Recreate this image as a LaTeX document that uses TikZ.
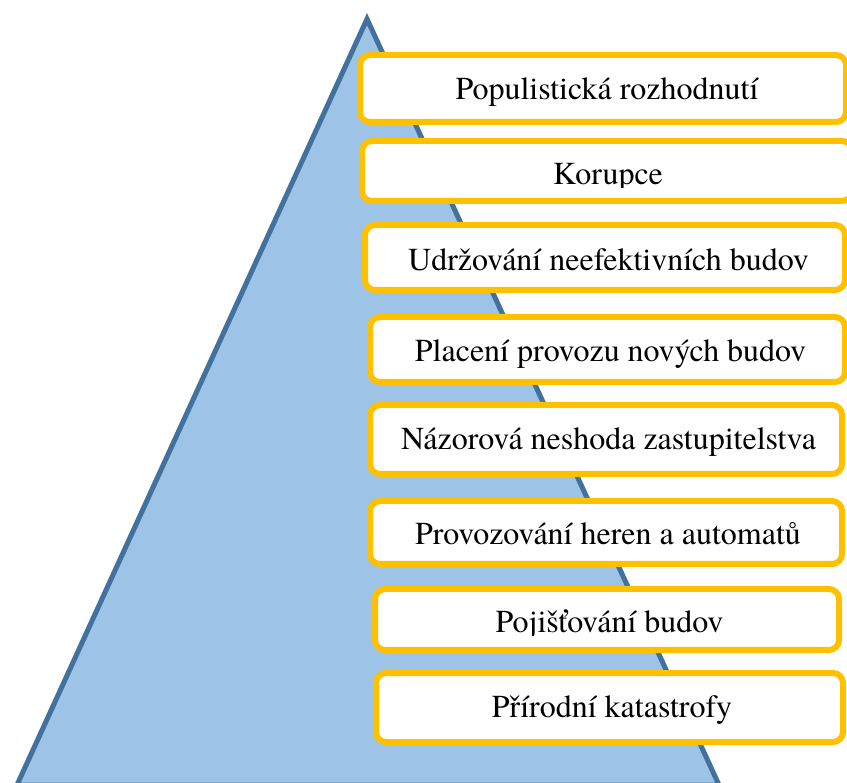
\documentclass[tikz,border=0pt]{standalone}
\usepackage{fontspec}
\setmainfont{TeX Gyre Termes}
\definecolor{triFill}{HTML}{9DC3E6}
\definecolor{triLine}{HTML}{41719C}
\definecolor{boxLine}{HTML}{FFC000}
\begin{document}
\begin{tikzpicture}[x=1pt,y=-1pt,
  tri/.style={fill=triFill,draw=triLine,line width=5pt,line join=miter},
  bx/.style={draw=boxLine,fill=white,line width=6pt,rounded corners=10pt},
  lbl/.style={anchor=base,inner sep=0pt,font=\fontsize{32}{38}\selectfont,text=black}]
\useasboundingbox (0,0) rectangle (847,783);
\coordinate (apex) at (367,19);
\coordinate (bl) at (17,785);
\coordinate (br) at (719,785);
\draw[tri] (apex) -- (br) -- (bl) -- cycle;
% boxes
\draw[bx] (360,55) rectangle (846,122);
\draw[bx] (362,141) rectangle (852,201);
\draw[bx] (365,225) rectangle (845,290);
\draw[bx] (370,317) rectangle (845,382);
\draw[bx] (370,405) rectangle (842,474);
\draw[bx] (370,501) rectangle (842,564);
\draw[bx] (375,589) rectangle (839,650);
\draw[bx] (376,673) rectangle (843,742);
% labels
\node[lbl] (t1) at (607,100) {Populistická rozhodnutí};
\begin{scope}
\clip (365,144) rectangle (849,187.5);
\node[lbl] (t2) at (608,185) {Korupce};
\end{scope}
\node[lbl] (t3) at (608.5,271) {Udržování neefektivních budov};
\node[lbl] (t4) at (610.5,362) {Placení provozu nových budov};
\node[lbl] (t5) at (608.5,450) {Názorová neshoda zastupitelstva};
\node[lbl] (t6) at (608,545) {Provozování heren a automatů};
\begin{scope}
\clip (378,592) rectangle (836,635.5);
\node[lbl] (t7) at (609.5,633) {Pojišťování budov};
\end{scope}
\node[lbl] (t8) at (612,717) {Přírodní katastrofy};
\end{tikzpicture}
\end{document}
